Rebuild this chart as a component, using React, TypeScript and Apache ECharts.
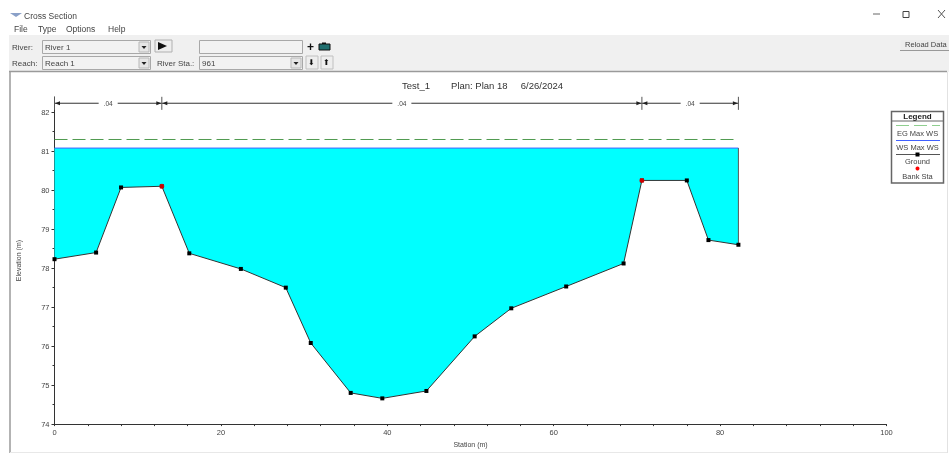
import React, { useEffect, useRef } from "react";
import * as echarts from "echarts";

const stations = [0, 5, 8, 12.9, 16.2, 22.4, 27.8, 30.8, 35.6, 39.4, 44.7, 50.5, 54.9, 61.5, 68.4, 70.6, 76, 78.6, 82.2];
const ground = [78.23, 78.4, 80.07, 80.1, 78.38, 77.98, 77.5, 76.08, 74.8, 74.66, 74.85, 76.25, 76.97, 77.53, 78.12, 80.25, 80.25, 78.72, 78.6];
const bankStations = [12.9, 70.6];
const bankElevations = [80.1, 80.25];
const wsElevation = 81.08;
const egElevation = 81.3;
const nBoundaries = [0, 12.9, 70.6, 82.2];
const nValues = [".04", ".04", ".04"];
const nLevel = 82.23;
const yTicks = [74, 75, 76, 77, 78, 79, 80, 81, 82];
const xTicks = [0, 20, 40, 60, 80, 100];
const menuItems: [string, number][] = [["File", 14], ["Type", 38], ["Options", 66], ["Help", 108]];
const legendRows = ["EG Max WS", "WS Max WS", "Ground", "Bank Sta"];

const FONT = "'Liberation Sans', Arial, sans-serif";
const INK = "#444";

const txt = (text: string, x: number, y: number, size = 8, extra: any = {}) => ({
  type: "text", x, y, silent: true,
  style: { text, fontSize: size, fontFamily: FONT, fill: INK, verticalAlign: "middle", ...extra },
});
const box = (x: number, y: number, width: number, height: number, fill: string, stroke?: string, lineWidth = 1) => ({
  type: "rect", shape: { x, y, width, height }, silent: true,
  style: { fill, stroke: stroke ?? "none", lineWidth },
});
const seg = (x1: number, y1: number, x2: number, y2: number, stroke: string, lineWidth = 1, lineDash?: number[]) => ({
  type: "line", shape: { x1, y1, x2, y2 }, silent: true,
  style: { stroke, lineWidth, lineDash },
});
const combo = (x: number, y: number, w: number, label?: string) => [
  box(x + 0.5, y + 0.5, w, 13, "#f2f2f2", "#a8a8a8"),
  box(x + w - 11, y + 2, 10, 10, "#e6e6e6", "#b8b8b8"),
  { type: "polygon", silent: true, shape: { points: [[x + w - 8.5, y + 6], [x + w - 3.5, y + 6], [x + w - 6, y + 9]] }, style: { fill: "#222" } },
  ...(label ? [txt(label, x + 3, y + 7, 8)] : []),
];

const chrome: any[] = [
  box(0, 0, 949, 453, "#ffffff"),
  { type: "polygon", silent: true, shape: { points: [[10, 13], [22, 13], [16, 17]] }, style: { fill: "#8aa0c8" } },
  txt("Cross Section", 24, 15.5, 8.5),
  ...menuItems.map(([t, x]) => txt(t, x, 29, 8.5)),
  seg(873, 14, 880, 14, "#666"),
  box(903, 11.5, 6, 6, "none", "#444"),
  seg(938, 10, 945, 18, "#555"), seg(945, 10, 938, 18, "#555"),
  box(9, 35, 940, 37, "#f0f0f0"),
  txt("River:", 12, 47, 8),
  txt("Reach:", 12, 63, 8),
  ...combo(42, 40, 108, "River 1"),
  ...combo(42, 56, 108, "Reach 1"),
  box(155, 40, 17, 12, "#eeeeee", "#b0b0b0"),
  { type: "polygon", silent: true, shape: { points: [[158, 42], [158, 50], [167, 46]] }, style: { fill: "#111" } },
  box(199.5, 40.5, 103, 13, "#f2f2f2", "#a8a8a8"),
  txt("+", 307, 46.5, 12, { fill: "#111", fontWeight: "bold" }),
  box(319, 44, 11, 6, "#1f6f6f", "#111"),
  box(322, 42.5, 4, 1.5, "#111"),
  txt("River Sta.:", 157, 63, 8),
  ...combo(199, 56, 103, "961"),
  box(306, 56, 12, 13, "#eeeeee", "#c0c0c0"),
  txt("⬇", 308, 62.5, 8, { fill: "#111" }),
  box(321, 56, 12, 13, "#eeeeee", "#c0c0c0"),
  txt("⬆", 323, 62.5, 8, { fill: "#111" }),
  box(900.5, 40, 48, 10, "#ececec"),
  seg(900, 50.5, 949, 50.5, "#999"),
  txt("Reload Data", 905, 44.5, 7.5),
  seg(9, 71.5, 947, 71.5, "#9a9a9a", 1.5),
  seg(10, 71, 10, 453, "#9a9a9a", 1.5),
  seg(947.5, 72, 947.5, 453, "#e2e2e2", 1),
  seg(10, 452.5, 947, 452.5, "#e8e8e8", 1),
];

const legendGraphic: any[] = [
  box(891.5, 111.5, 52, 71.5, "#ffffff", "#666", 1.5),
  seg(892, 121, 943, 121, "#666", 1),
  txt("Legend", 917.5, 116, 8, { align: "center", fontWeight: "bold", fill: "#222" }),
  seg(896, 125.5, 940, 125.5, "#8fcf8f", 1.2, [13, 5]),
  txt(legendRows[0], 917.5, 133, 7.5, { align: "center" }),
  seg(896, 140.5, 940, 140.5, "#4060ff", 1),
  txt(legendRows[1], 917.5, 147, 7.5, { align: "center" }),
  seg(896, 154.5, 940, 154.5, "#555", 1),
  box(915.5, 152.5, 4, 4, "#000"),
  txt(legendRows[2], 917.5, 161, 7.5, { align: "center" }),
  { type: "circle", silent: true, shape: { cx: 917.5, cy: 168.5, r: 2 }, style: { fill: "#ff0000" } },
  txt(legendRows[3], 917.5, 176, 7.5, { align: "center" }),
];

const arrow = (x: number, rotate: number, offset: number) => ({
  value: [x, nLevel], symbol: "triangle", symbolSize: [4, 5], symbolRotate: rotate, symbolOffset: [offset, 0],
});

const nSeries: any[] = nValues.map((label, i) => {
  const a = nBoundaries[i];
  const b = nBoundaries[i + 1];
  return {
    type: "line", silent: true, z: 4, showSymbol: true, showAllSymbol: true,
    lineStyle: { color: "#333", width: 1 },
    itemStyle: { color: "#222" },
    data: [
      arrow(a, 90, 3),
      {
        value: [(a + b) / 2, nLevel], symbol: "circle", symbolSize: 1, itemStyle: { color: "#fff" },
        label: { show: true, formatter: label, position: "inside", backgroundColor: "#fff", padding: [0, 5], color: INK, fontSize: 6.5, fontFamily: FONT },
      },
      arrow(b, -90, -3),
    ],
  };
});

const nDividers: any[] = nBoundaries.map((x) => ({
  type: "line", silent: true, z: 4, symbol: "none",
  lineStyle: { color: "#555", width: 1 },
  data: [[x, nLevel + 0.17], [x, nLevel - 0.17]],
}));

export default function App() {
  const ref = useRef<HTMLDivElement>(null);
  useEffect(() => {
    document.body.style.margin = "0";
    const chart = echarts.init(ref.current!, undefined, { renderer: "svg" });
    const groundPts = stations.map((s, i) => [s, ground[i]]);
    const xEnd = stations[stations.length - 1];
    chart.setOption({
      animation: false,
      backgroundColor: "#fff",
      title: {
        text: "Test_1        Plan: Plan 18     6/26/2024",
        left: 477.5, top: 75, textAlign: "center",
        textStyle: { fontSize: 9.5, fontWeight: "normal", color: "#333", fontFamily: FONT },
      },
      grid: { left: 54.5, right: 62.5, top: 97, bottom: 28, containLabel: false },
      xAxis: {
        type: "value", min: 0, max: 100, interval: 20,
        name: "Station (m)", nameLocation: "middle", nameGap: 16,
        nameTextStyle: { fontSize: 7, color: INK, fontFamily: FONT },
        splitLine: { show: false },
        axisLine: { onZero: false, lineStyle: { color: "#333", width: 1 } },
        axisTick: { show: true, length: 2, lineStyle: { color: "#333" } },
        minorTick: { show: true, splitNumber: 5, length: 2, lineStyle: { color: "#333" } },
        axisLabel: { fontSize: 7.5, color: INK, fontFamily: FONT, margin: 4, customValues: xTicks },
      },
      yAxis: {
        type: "value", min: 74, max: 82.39, interval: 1,
        name: "Elevation (m)", nameLocation: "middle", nameGap: 33, nameRotate: 90,
        nameTextStyle: { fontSize: 7, color: INK, fontFamily: FONT },
        splitLine: { show: false },
        axisLine: { onZero: false, lineStyle: { color: "#333", width: 1 } },
        axisTick: { show: true, length: 3, lineStyle: { color: "#333" }, customValues: yTicks },
        minorTick: { show: true, splitNumber: 2, length: 2, lineStyle: { color: "#333" } },
        axisLabel: { fontSize: 7.5, color: INK, fontFamily: FONT, margin: 5, customValues: yTicks },
      },
      graphic: { elements: [{ type: "group", z: -10, silent: true, children: chrome }, { type: "group", z: 100, silent: true, children: legendGraphic }] },
      series: [
        {
          name: "Water", type: "custom", z: 1, silent: true, coordinateSystem: "cartesian2d",
          data: groundPts,
          encode: { x: 0, y: 1 },
          renderItem: (params: any, api: any) => {
            if (params.dataIndex !== 0) return null;
            const points = [
              [0, wsElevation], [xEnd, wsElevation],
              ...groundPts.slice().reverse(),
            ].map((p) => api.coord(p));
            return { type: "polygon", shape: { points }, style: { fill: "#00ffff" } };
          },
        },
        {
          name: "WS Max WS", type: "line", symbol: "none", z: 2, silent: true,
          lineStyle: { color: "#4060ff", width: 1 },
          data: [[0, wsElevation], [xEnd, wsElevation]],
        },
        {
          name: "Ground", type: "line", z: 3, silent: true,
          symbol: "rect", symbolSize: 4, showAllSymbol: true,
          itemStyle: { color: "#000" },
          lineStyle: { color: "#333", width: 1 },
          data: groundPts,
        },
        {
          name: "Bank wall", type: "line", symbol: "none", z: 3, silent: true,
          lineStyle: { color: "#555", width: 1 },
          data: [[xEnd, ground[ground.length - 1]], [xEnd, wsElevation]],
        },
        {
          name: "EG Max WS", type: "line", symbol: "none", z: 3, silent: true,
          lineStyle: { color: "#4f9a4f", width: 1, type: [13, 5] },
          data: [[0, egElevation], [xEnd, egElevation]],
        },
        {
          name: "Bank Sta", type: "scatter", z: 6, silent: true,
          symbol: "circle", symbolSize: 5,
          itemStyle: { color: "#ff0000" },
          data: bankStations.map((s, i) => [s, bankElevations[i]]),
        },
        ...nSeries,
        ...nDividers,
      ],
    });
    return () => chart.dispose();
  }, []);
  return <div ref={ref} style={{ width: 949, height: 453, filter: "blur(0.35px)" }} />;
}
